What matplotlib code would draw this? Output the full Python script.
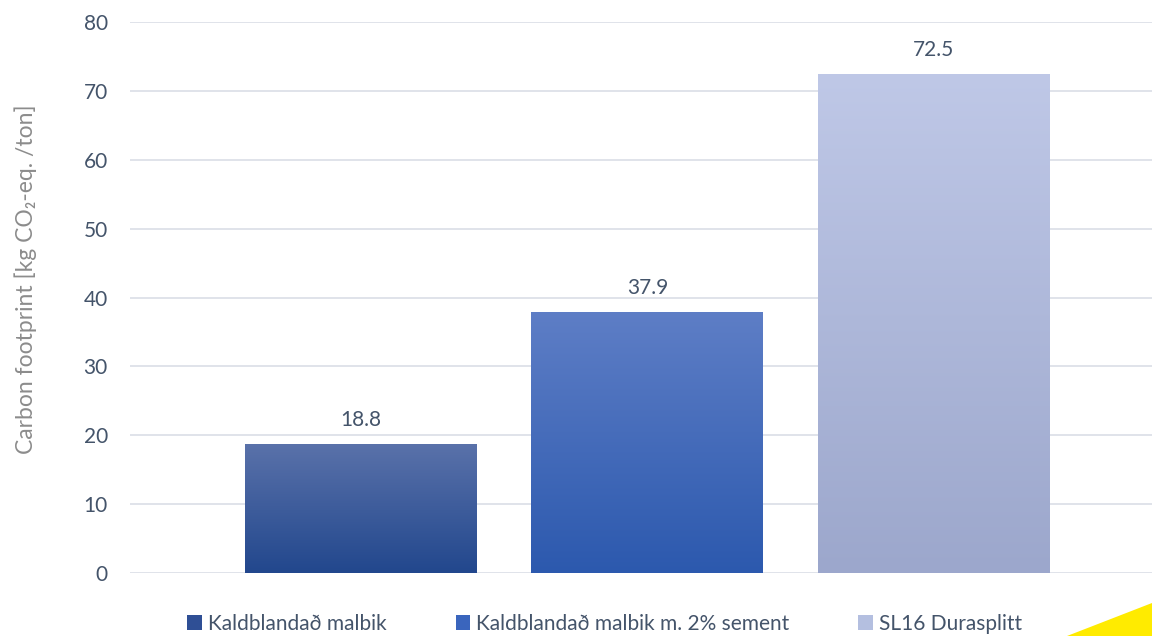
import numpy as np
import matplotlib
matplotlib.use("Agg")
import matplotlib.pyplot as plt
from matplotlib.colors import LinearSegmentedColormap
from matplotlib.patches import Patch, Polygon

categories = ["Kaldblandað malbik", "Kaldblandað malbik m. 2% sement", "SL16 Durasplitt"]
values = [18.8, 37.9, 72.5]
top_colors = ["#5a72aa", "#5e7ec6", "#bfc8e7"]
bottom_colors = ["#22478d", "#2c59ae", "#9ca7cc"]
legend_colors = ["#2f4f95", "#3a65bd", "#b4bfe0"]
yticks = [0, 10, 20, 30, 40, 50, 60, 70, 80]

plt.rcParams['font.family'] = ['Lato', 'DejaVu Sans']
text_col = "#44546a"

fig = plt.figure(figsize=(11.52, 6.36), dpi=100)
ax = fig.add_axes([130/1152, 1 - 573/636, 1 - 130/1152, (573 - 22)/636])

x = np.arange(len(categories))
width = 0.81
bars = ax.bar(x, values, width=width, color="none", zorder=2)
grad = np.linspace(0, 1, 256).reshape(-1, 1)
for b, v, ct, cb in zip(bars, values, top_colors, bottom_colors):
    cmap = LinearSegmentedColormap.from_list("g", [cb, ct])
    im = ax.imshow(grad, cmap=cmap, aspect="auto", origin="lower",
                   extent=[b.get_x(), b.get_x() + b.get_width(), 0, v], zorder=2)
    im.set_clip_path(b)
    ax.text(b.get_x() + b.get_width()/2, v + 2.0, f"{v:.1f}", ha="center", va="bottom",
            fontsize=15, color=text_col)

ax.set_xlim(-0.807, 2.763)
ax.set_ylim(0, 80)
ax.set_yticks(yticks)
ax.set_xticks([])
ax.grid(axis="y", color="#dde1e8", linewidth=1.3, zorder=0)
ax.set_axisbelow(True)
for s in ax.spines.values():
    s.set_visible(False)
ax.tick_params(axis="y", length=0, pad=16, labelsize=15, labelcolor=text_col)
ax.set_ylabel("Carbon footprint [kg CO₂-eq. /ton]", fontsize=16.5, color="#8c8c8c")
ax.yaxis.set_label_coords(-0.091, 0.534)

handles = [Patch(facecolor=c, edgecolor="none") for c in legend_colors]
fig.legend(handles, categories, loc="center", bbox_to_anchor=(0.525, 1 - 624/636),
           ncol=3, frameon=False, fontsize=15, labelcolor=text_col,
           handlelength=0.7, handleheight=0.7, handletextpad=0.3, columnspacing=3.3)

tri = Polygon([[1067/1152, 0], [1, 1 - 603/636], [1, 0]], closed=True,
              transform=fig.transFigure, facecolor="#ffeb00", edgecolor="none")
fig.patches.append(tri)

fig.savefig("out.png", dpi=100)
